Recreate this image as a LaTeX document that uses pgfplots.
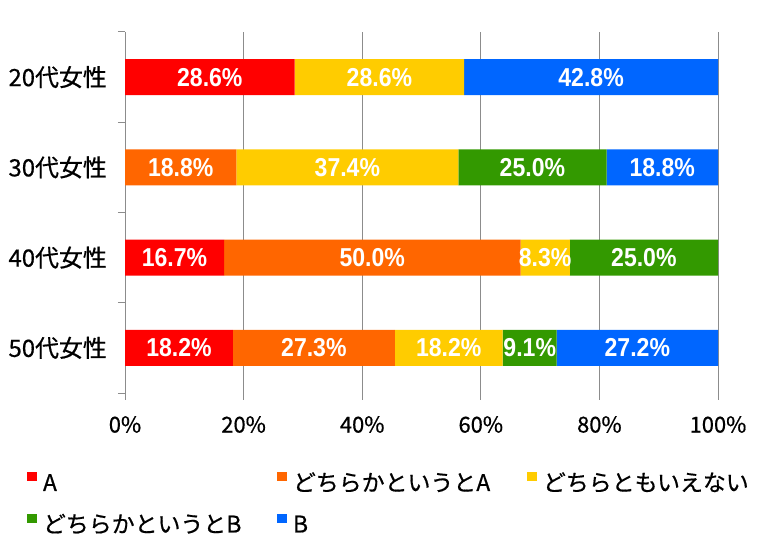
\documentclass[border=0pt]{standalone}
\usepackage{pgfplots}
\pgfplotsset{compat=1.18}
\usepackage{pgfplotstable}
\usepackage{fontspec}
\setmainfont{Noto Sans CJK JP}[FakeBold=0.6]
\newfontfamily\barfont{Liberation Sans}[FakeStretch=0.89]
\definecolor{cA}{HTML}{FF0000}
\definecolor{cdA}{HTML}{FF6600}
\definecolor{cN}{HTML}{FFCC00}
\definecolor{cdB}{HTML}{339900}
\definecolor{cB}{HTML}{0066FF}
\definecolor{axgray}{HTML}{8C8C8C}

\pgfplotstableread{
y A dA N dB B
3 28.6 0 28.6 0 42.8
2 0 18.8 37.4 25.0 18.8
1 16.7 50.0 8.3 25.0 0
0 18.2 27.3 18.2 9.1 27.2
}\data

\pgfplotsset{
  common/.style={
    at={(125bp,154bp)}, anchor=south west,
    scale only axis, width=593bp, height=361bp,
    xbar stacked, bar width=36bp,
    xmin=0, xmax=100, ymin=-0.5, ymax=3.5,
  },
  seg/.style={
    draw=none, fill=none,
    visualization depends on={\thisrow{#1} \as \segval},
    nodes near coords={\ifdim\segval pt>0.01pt\relax\pgfmathprintnumber[fixed,fixed zerofill,precision=1,assume math mode=true]{\segval}\%\fi},
    every node near coord/.append style={text=white, anchor=center, inner sep=0pt,
      font=\barfont\bfseries\fontsize{26}{26}\selectfont},
  },
}

\begin{document}
\begin{tikzpicture}
\begin{axis}[
  common,
  axis lines*=left,
  x axis line style={draw=none},
  y axis line style={draw=axgray, line width=1bp},
  tick align=outside, major tick length=7bp,
  tick style={draw=axgray, line width=1bp},
  xtick={0,20,40,60,80,100},
  xticklabels={0\%,20\%,40\%,60\%,80\%,100\%},
  xmajorgrids, grid style={draw=axgray, line width=1bp},
  ytick={-0.5,0.5,1.5,2.5,3.5}, yticklabels={},
  extra y ticks={0,1,2,3},
  extra y tick labels={50代女性,40代女性,30代女性,20代女性},
  extra y tick style={major tick length=0pt, yticklabel style={xshift=-18bp, font=\fontsize{24}{28}\selectfont}},
  tick label style={font=\fontsize{22}{26}\selectfont, inner sep=0pt},
  xticklabel style={anchor=north, yshift=-16bp},
  legend columns=3,
  legend cell align=left,
  legend style={draw=none, fill=none, at={(-0.16526,-0.2202)}, anchor=north west,
    inner sep=0pt, outer sep=0pt, column sep=0pt, row sep=17bp,
    nodes={inner sep=0pt, text height=17bp, text depth=6bp, font=\fontsize{23}{27}\selectfont}},
  legend image code/.code={\fill (0bp,4bp) rectangle (10bp,13bp);},
]
\addplot[fill=cA, draw=none] table[x=A, y=y] {\data};
\addlegendentry{\makebox[240bp][l]{\hspace{6bp}A}}
\addplot[fill=cdA, draw=none] table[x=dA, y=y] {\data};
\addlegendentry{\makebox[240bp][l]{\hspace{6bp}どちらかというとA}}
\addplot[fill=cN, draw=none] table[x=N, y=y] {\data};
\addlegendentry{\hspace{6bp}どちらともいえない}
\addplot[fill=cdB, draw=none] table[x=dB, y=y] {\data};
\addlegendentry{\makebox[240bp][l]{\hspace{6bp}どちらかというとB}}
\addplot[fill=cB, draw=none] table[x=B, y=y] {\data};
\addlegendentry{\makebox[240bp][l]{\hspace{6bp}B}}
\end{axis}
\begin{axis}[common, hide axis]
\addplot[seg=A] table[x=A, y=y] {\data};
\addplot[seg=dA] table[x=dA, y=y] {\data};
\addplot[seg=N] table[x=N, y=y] {\data};
\addplot[seg=dB] table[x=dB, y=y] {\data};
\addplot[seg=B] table[x=B, y=y] {\data};
\end{axis}
\pgfresetboundingbox
\path (0,0) rectangle (766bp,547bp);
\end{tikzpicture}
\end{document}
